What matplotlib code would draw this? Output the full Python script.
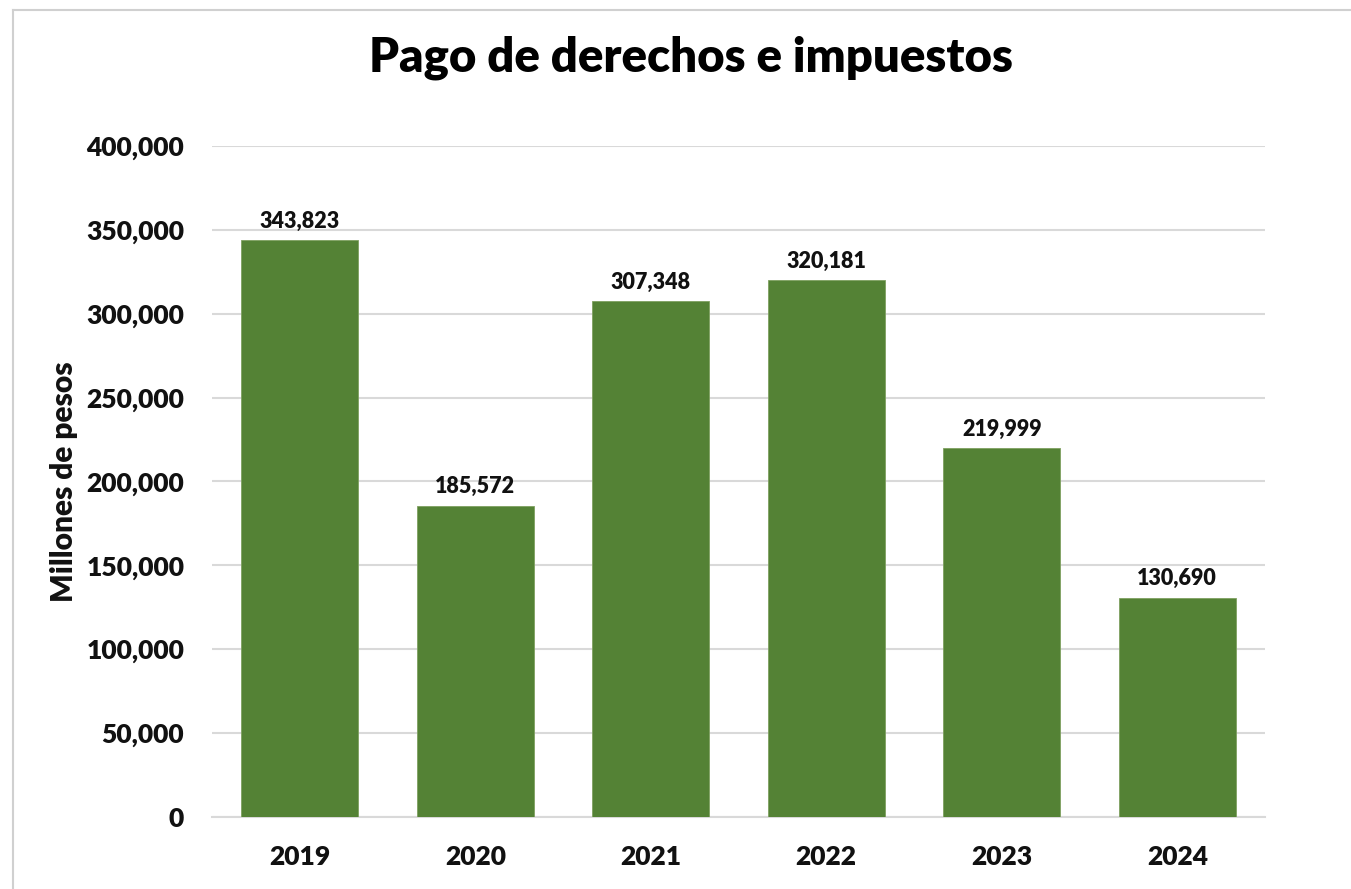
import matplotlib.pyplot as plt
from matplotlib.lines import Line2D
from matplotlib.ticker import FuncFormatter

plt.rcParams['font.family'] = ['Lato', 'DejaVu Sans']

anios = ['2019', '2020', '2021', '2022', '2023', '2024']
valores = [343823, 185572, 307348, 320181, 219999, 130690]
yticks = [0, 50000, 100000, 150000, 200000, 250000, 300000, 350000, 400000]

PESO = 'heavy'

W, H = 1351, 889
fig = plt.figure(figsize=(W / 100, H / 100), dpi=100)
ax = fig.add_axes([212 / W, 1 - 817 / H, (1265 - 212) / W, (817 - 146) / H])

x = range(len(anios))
bars = ax.bar(x, valores, width=0.664, color='#548235', edgecolor='#7fa060', linewidth=0.6, zorder=3)

for b, v in zip(bars, valores):
    ax.text(b.get_x() + b.get_width() / 2, v + 5000, f'{v:,}', ha='center', va='bottom',
            fontsize=15.5, fontweight=PESO, color='#111111')

ax.set_xlim(-0.5, len(anios) - 0.5)
ax.set_ylim(0, 400000)
ax.set_yticks(yticks)
ax.yaxis.set_major_formatter(FuncFormatter(lambda v, p: f'{int(v):,}'))
ax.set_xticks(list(x))
ax.set_xticklabels(anios)
ax.tick_params(axis='both', length=0, labelsize=19, colors='#111111')
ax.tick_params(axis='x', pad=20)
ax.tick_params(axis='y', pad=20)
for lbl in ax.get_xticklabels() + ax.get_yticklabels():
    lbl.set_fontweight(PESO)

ax.grid(axis='y', color='#d9d9d9', linewidth=1.5, zorder=0)
for s in ['top', 'right', 'left']:
    ax.spines[s].set_visible(False)
ax.spines['bottom'].set_color('#d9d9d9')
ax.spines['bottom'].set_linewidth(1.5)

ax.set_ylabel('Millones de pesos', fontsize=21.5, fontweight=PESO, color='#111111')
ax.yaxis.set_label_coords(-(212 - 78) / (1265 - 212), 0.5)

fig.text(691 / W, 1 - 58 / H, 'Pago de derechos e impuestos', ha='center', va='center',
         fontsize=34, fontweight=PESO, color='#000000')

# borde del area del grafico (solo arriba e izquierda visibles)
fig.add_artist(Line2D([13 / W, 1], [1 - 10 / H, 1 - 10 / H], color='#d0d0d0', linewidth=1.5))
fig.add_artist(Line2D([13 / W, 13 / W], [0, 1 - 10 / H], color='#d0d0d0', linewidth=1.5))

fig.savefig('out.png', dpi=100)
